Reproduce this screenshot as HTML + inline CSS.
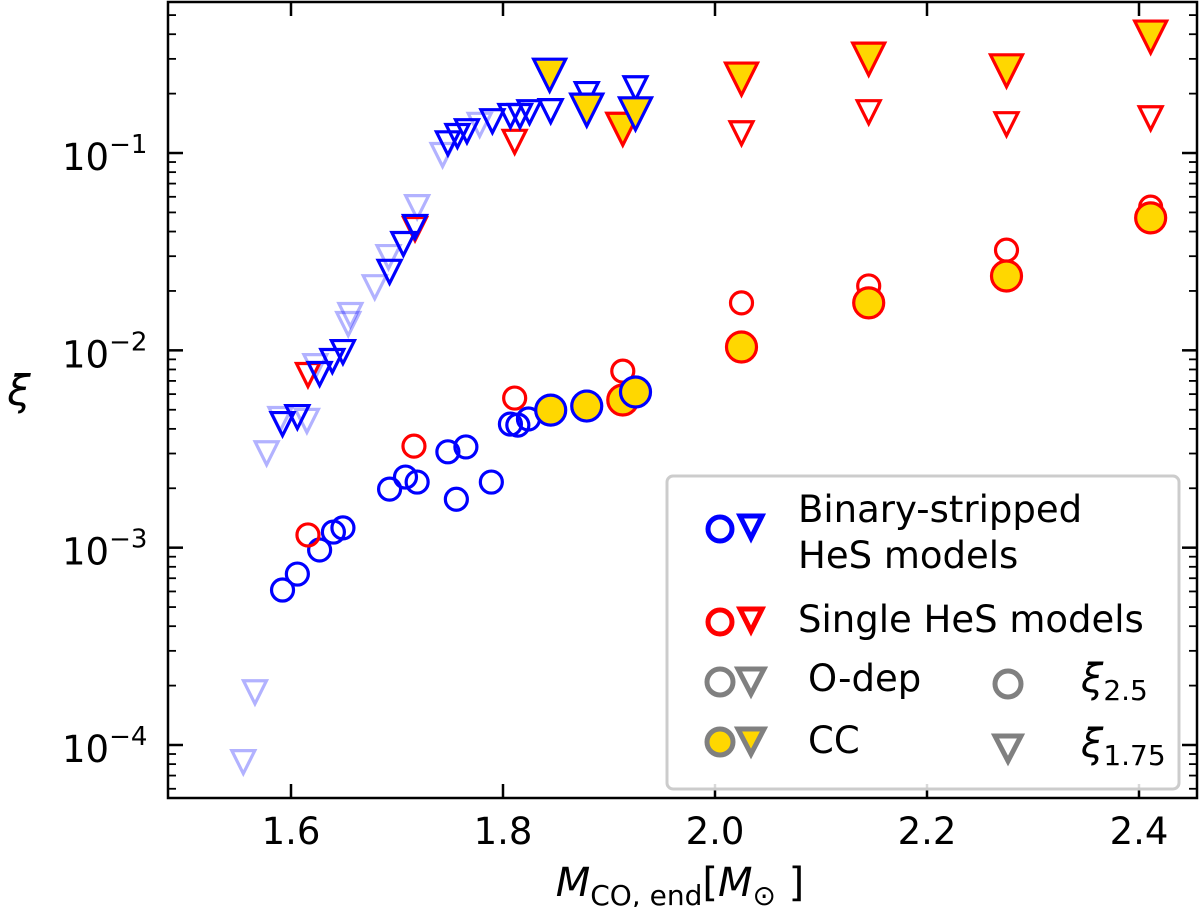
<!DOCTYPE html>
<html><head><meta charset="utf-8"><style>
html,body{margin:0;padding:0;background:#fff;}
svg{display:block;font-family:"DejaVu Sans","Liberation Sans",sans-serif;}
</style></head><body>
<svg id="chart" width="1200" height="907" viewBox="0 0 1200 907" xmlns="http://www.w3.org/2000/svg">
<g id="marks"></g>
<rect x="168" y="2" width="1029" height="796" fill="none" stroke="#000" stroke-width="2.5"/>
<g id="ticks"></g>
<text x="680" y="896" font-size="40" text-anchor="middle"><tspan font-style="italic">M</tspan><tspan font-size="28" dy="9">CO, end</tspan><tspan dy="-9">[</tspan><tspan font-style="italic">M</tspan><tspan font-size="28" dy="9">⊙</tspan><tspan dy="-9"> ]</tspan></text>
<text x="19" y="405" font-size="42" font-style="italic" text-anchor="middle">ξ</text>
<g>
<rect x="667" y="476" width="512" height="313" rx="6" fill="#fff" fill-opacity="0.85" stroke="#ccc" stroke-width="3"/>
<g>
<circle cx="720" cy="529" r="12" fill="none" stroke="#0000ff" stroke-width="5"/>
<path d="M740,516 L762,516 L751,538 Z" fill="none" stroke="#0000ff" stroke-width="5" stroke-linejoin="miter"/>
<text x="798" y="522" font-size="37">Binary-stripped</text>
<text x="798" y="568" font-size="37">HeS models</text></g>
<g>
<circle cx="720" cy="622" r="12" fill="none" stroke="#ff0000" stroke-width="5"/>
<path d="M740,609 L762,609 L751,631 Z" fill="none" stroke="#ff0000" stroke-width="5"/>
<text x="798" y="632" font-size="37">Single HeS models</text></g>
<g>
<circle cx="720" cy="682" r="13" fill="none" stroke="#808080" stroke-width="5"/>
<path d="M738,669 L764,669 L751,694 Z" fill="none" stroke="#808080" stroke-width="5"/>
<text x="808" y="691" font-size="37">O-dep</text></g>
<g>
<circle cx="720" cy="742" r="13" fill="#ffd700" stroke="#808080" stroke-width="5"/>
<path d="M738,729 L764,729 L751,754 Z" fill="#ffd700" stroke="#808080" stroke-width="5"/>
<text x="808" y="753" font-size="37">CC</text></g>
<g>
<circle cx="1008" cy="684" r="13" fill="none" stroke="#808080" stroke-width="5"/>
<text x="1081" y="692" font-size="40" font-style="italic">ξ<tspan font-style="normal" font-size="28" dy="8">2.5</tspan></text></g>
<g>
<path d="M995,736 L1021,736 L1008,761 Z" fill="none" stroke="#808080" stroke-width="5"/>
<text x="1081" y="757" font-size="40" font-style="italic">ξ<tspan font-style="normal" font-size="28" dy="8">1.75</tspan></text></g>
</g>
</svg>
<script>
// ---- data ----
const xTicks = [1.6, 1.8, 2.0, 2.2, 2.4];
const xTickLabels = ["1.6", "1.8", "2.0", "2.2", "2.4"];
const yDecades = [-4, -3, -2, -1];
const yTickLabels = ["−4", "−3", "−2", "−1"];

const binLightTriX = [1.743,1.778,1.719,1.692,1.679,1.656,1.654,1.623,1.615,1.590,1.577,1.566,1.555];
const binLightTriY = [0.0977,0.139,0.0532,0.0297,0.0209,0.0151,0.0136,0.00832,0.00439,0.00449,0.00301,0.000185,0.0000819];

const binTriX = [1.879,1.925,1.845,1.825,1.816,1.807,1.790,1.766,1.757,1.748,1.717,1.706,1.693,1.649,1.639,1.627,1.606,1.592];
const binTriY = [0.199,0.213,0.163,0.161,0.154,0.154,0.145,0.129,0.122,0.112,0.0422,0.0346,0.0250,0.00980,0.00883,0.00759,0.00459,0.00423];

const binCCTriX = [1.844,1.879,1.925];
const binCCTriY = [0.248,0.165,0.158];

const sglTriX = [1.811,1.717,1.616,2.025,2.145,2.275,2.411];
const sglTriY = [0.114,0.0412,0.0075,0.126,0.161,0.140,0.150];

const sglCCTriX = [1.913,2.025,2.145,2.275,2.411];
const sglCCTriY = [0.132,0.237,0.299,0.261,0.387];

const binCircX = [1.592,1.606,1.627,1.640,1.649,1.693,1.708,1.719,1.748,1.765,1.756,1.789,1.807,1.814,1.824,1.845,1.879,1.925];
const binCircY = [0.000610,0.000735,0.000973,0.00120,0.00126,0.00198,0.00228,0.00215,0.00306,0.00324,0.00176,0.00215,0.00423,0.00418,0.00449,0.00500,0.00547,0.00644];

const sglCircX = [1.616,1.716,1.811,1.913,2.025,2.145,2.275,2.411];
const sglCircY = [0.00116,0.00327,0.00573,0.00785,0.0174,0.0212,0.0322,0.0532];

const sglCCCircX = [1.913,2.025,2.145,2.275,2.411];
const sglCCCircY = [0.00560,0.0104,0.0174,0.0238,0.0469];

const binCCCircX = [1.845,1.879,1.925];
const binCCCircY = [0.00498,0.00522,0.00615];

// ---- scales ----
const X0 = 168, X1 = 1197, Y0 = 2, Y1 = 798;
const xMin = 1.6 - 123/1060, xMax = 2.4 + 58/1060;
const lMax = -1 + 151/197.3, lMin = -4 - 53/197.3;
function sx(v){ return X0 + (v - xMin)/(xMax - xMin)*(X1 - X0); }
function sy(v){ const l = Math.log10(v); return Y0 + (lMax - l)/(lMax - lMin)*(Y1 - Y0); }

const NS = "http://www.w3.org/2000/svg";
const marks = document.getElementById('marks');
const ticks = document.getElementById('ticks');

function tri(x, y, r, fill, stroke, op, name){
  const p = document.createElementNS(NS, 'path');
  const cx = sx(x), cy = sy(y);
  p.setAttribute('d', `M${cx-r},${cy-r} L${cx+r},${cy-r} L${cx},${cy+r} Z`);
  p.setAttribute('fill', fill);
  p.setAttribute('stroke', stroke);
  p.setAttribute('stroke-width', '3.2');
  p.setAttribute('stroke-linejoin', 'miter');
  if (op < 1) p.setAttribute('opacity', op);
  
  
  marks.appendChild(p);
}
function circ(x, y, r, fill, stroke, name){
  const c = document.createElementNS(NS, 'circle');
  c.setAttribute('cx', sx(x));
  c.setAttribute('cy', sy(y));
  c.setAttribute('r', r);
  c.setAttribute('fill', fill);
  c.setAttribute('stroke', stroke);
  c.setAttribute('stroke-width', '3.2');
  
  
  marks.appendChild(c);
}

binLightTriX.forEach((x,i)=>tri(x, binLightTriY[i], 11.5, 'none', '#0000ff', 0.3, 'binary-odep-xi175-faint-point'));
binCircX.forEach((x,i)=>circ(x, binCircY[i], 11, 'none', '#0000ff', 'binary-odep-xi25-point'));
sglCircX.forEach((x,i)=>circ(x, sglCircY[i], 11, 'none', '#ff0000', 'single-odep-xi25-point'));
sglCCCircX.forEach((x,i)=>circ(x, sglCCCircY[i], 15, '#ffd700', '#ff0000', 'single-cc-xi25-point'));
binCCCircX.forEach((x,i)=>circ(x, binCCCircY[i], 15, '#ffd700', '#0000ff', 'binary-cc-xi25-point'));
sglTriX.forEach((x,i)=>tri(x, sglTriY[i], 11.5, 'none', '#ff0000', 1, 'single-odep-xi175-point'));
binTriX.forEach((x,i)=>tri(x, binTriY[i], 11.5, 'none', '#0000ff', 1, 'binary-odep-xi175-point'));
sglCCTriX.forEach((x,i)=>tri(x, sglCCTriY[i], 16, '#ffd700', '#ff0000', 1, 'single-cc-xi175-point'));
binCCTriX.forEach((x,i)=>tri(x, binCCTriY[i], 16, '#ffd700', '#0000ff', 1, 'binary-cc-xi175-point'));

function line(x1,y1,x2,y2,w,name){
  const l = document.createElementNS(NS,'line');
  l.setAttribute('x1',x1); l.setAttribute('y1',y1); l.setAttribute('x2',x2); l.setAttribute('y2',y2);
  l.setAttribute('stroke','#000'); l.setAttribute('stroke-width',w);
  
  
  ticks.appendChild(l);
}
function txt(x,y,s,anchor,name){
  const t = document.createElementNS(NS,'text');
  t.setAttribute('x',x); t.setAttribute('y',y); t.setAttribute('font-size','37');
  t.setAttribute('text-anchor',anchor);
  t.innerHTML = s;
  
  
  ticks.appendChild(t);
}
// x ticks
xTicks.forEach((v,i)=>{
  const px = sx(v);
  line(px, Y1, px, Y1-14, 2.5, 'x-tick');
  line(px, Y0, px, Y0+14, 2.5, 'x-tick-top');
  txt(px, 844, xTickLabels[i], 'middle', 'x-tick-label');
});
// y ticks
yDecades.forEach((d,i)=>{
  const py = sy(Math.pow(10,d));
  line(X0, py, X0+15, py, 2.5, 'y-tick');
  line(X1, py, X1-15, py, 2.5, 'y-tick-right');
  txt(62, py+17, '10<tspan font-size="26" dy="-17">' + yTickLabels[i] + '</tspan>', 'start', 'y-tick-label');
});
for (let d=-5; d<=0; d++){
  for (let m=2; m<=9; m++){
    const v = m*Math.pow(10,d);
    const py = sy(v);
    if (py < Y0+1 || py > Y1-1) continue;
    line(X0, py, X0+8, py, 1.8, 'y-minor-tick');
    line(X1, py, X1-8, py, 1.8, 'y-minor-tick-right');
  }
}
</script>
</body></html>
